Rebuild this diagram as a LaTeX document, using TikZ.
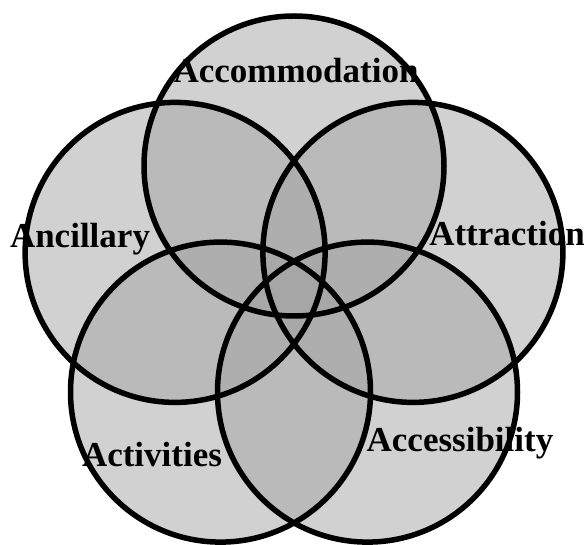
\documentclass[tikz,border=0pt]{standalone}
\usepackage{fontspec}
\setmainfont{Liberation Serif}
\usetikzlibrary{positioning}

\tikzset{
  venn/.style={circle, minimum size=300pt, inner sep=0pt, fill=black!36, fill opacity=0.5},
  ring/.style={line width=5.5pt, draw=black},
  vlabel/.style={anchor=base, inner sep=0pt, font=\bfseries\fontsize{35}{40}\selectfont}
}

\begin{document}
\begin{tikzpicture}[x=1pt, y=-1pt]
\useasboundingbox (0,0) rectangle (584,545);

% Five overlapping circles (fills)
\node[venn] (accom) at (294,166) {};
\node[venn] (ancil) at (175.1,252.4) {};
\node[venn] (attra) at (412.9,252.4) {};
\node[venn] (activ) at (220.5,392.1) {};
\node[venn] (acces) at (367.5,392.1) {};

% Labels
\node[vlabel] (laccom) at (296,83) {Accommodation};
\node[vlabel] (lancil) at (80,248) {Ancillary};
\node[vlabel] (lattra) at (507,246) {Attraction};
\node[vlabel] (lactiv) at (152,466) {Activities};
\node[vlabel] (lacces) at (460,451) {Accessibility};

% Outlines on top
\foreach \c in {accom,ancil,attra,activ,acces}
  \draw[ring] (\c.center) circle[radius=150pt];

\end{tikzpicture}
\end{document}
